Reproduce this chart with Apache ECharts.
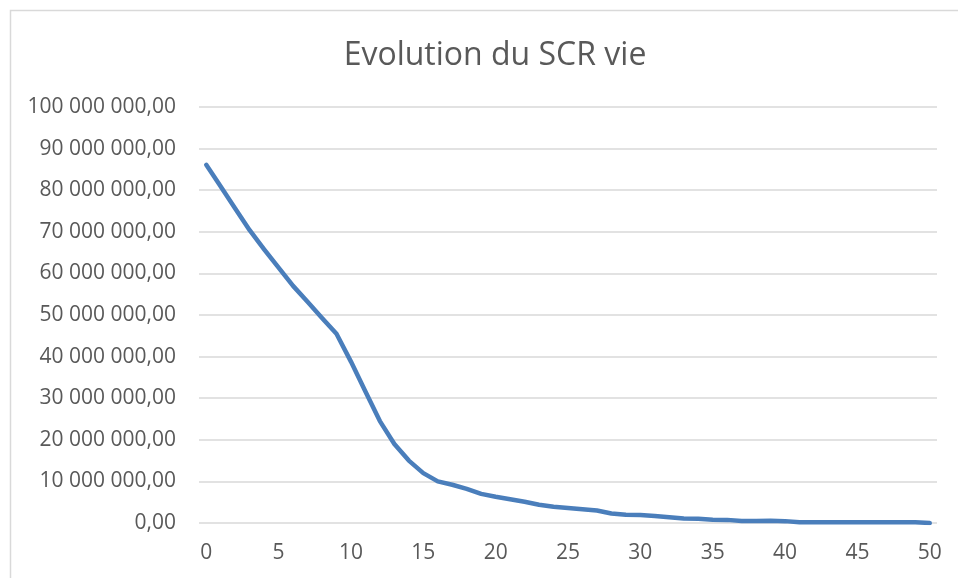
<!DOCTYPE html>
<html>
<head>
<meta charset="utf-8">
<script src="https://cdn.jsdelivr.net/npm/echarts@6/dist/echarts.min.js"></script>
<style>html,body{margin:0;padding:0;background:#fff;}#c{width:958px;height:578px;}</style>
</head>
<body>
<div id="c"></div>
<script>
const title = 'Evolution du SCR vie';
const years = [];
for (let i = 0; i <= 50; i++) years.push(String(i));
const scrMillions = [
  86.1, 80.9, 75.6, 70.4, 65.8, 61.4, 57.0, 53.2, 49.3, 45.5,
  38.8, 31.6, 24.5, 19.0, 15.0, 12.0, 10.0, 9.2, 8.2, 7.0,
  6.3, 5.7, 5.1, 4.4, 3.9, 3.6, 3.3, 3.0, 2.3, 2.0,
  1.9, 1.7, 1.4, 1.1, 1.05, 0.8, 0.75, 0.5, 0.5, 0.55,
  0.45, 0.2, 0.2, 0.2, 0.2, 0.2, 0.2, 0.2, 0.2, 0.2,
  0.0
];
const scrValues = scrMillions.map(v => v * 1000000);
const yMin = 0, yMax = 100000000, yStep = 10000000;

function fmt(v) {
  const s = Math.round(v).toString().replace(/\B(?=(\d{3})+(?!\d))/g, ' ');
  return s + ',00';
}

const chart = echarts.init(document.getElementById('c'), null, {renderer: 'canvas'});
const font = '"Open Sans", "Liberation Sans", sans-serif';
chart.setOption({
  animation: false,
  backgroundColor: '#ffffff',
  graphic: [{
    type: 'rect', left: 8, top: 8,
    shape: {width: 1000, height: 620},
    style: {fill: 'none', stroke: '#d9d9d9', lineWidth: 1.5},
    silent: true
  }],
  title: {
    text: title, left: 490, top: 35, textAlign: 'center',
    textStyle: {fontFamily: font, fontSize: 32, fontWeight: 'normal', color: '#595959'}
  },
  grid: {left: 199, right: 21, top: 107, bottom: 55, containLabel: false},
  xAxis: {
    type: 'category', data: years, boundaryGap: true,
    axisLine: {show: false}, axisTick: {show: false},
    axisLabel: {interval: 4, color: '#595959', fontFamily: font, fontSize: 21, margin: 20},
    splitLine: {show: false}
  },
  yAxis: {
    type: 'value', min: yMin, max: yMax, interval: yStep,
    axisLine: {show: false}, axisTick: {show: false},
    axisLabel: {formatter: fmt, color: '#595959', fontFamily: font, fontSize: 21, margin: 23},
    splitLine: {lineStyle: {color: '#d9d9d9', width: 1.5}}
  },
  series: [{
    type: 'line', data: scrValues, showSymbol: false, symbol: 'none',
    lineStyle: {color: '#4a7ebb', width: 4.5, cap: 'round', join: 'round'},
    smooth: false
  }]
});
</script>
</body>
</html>
